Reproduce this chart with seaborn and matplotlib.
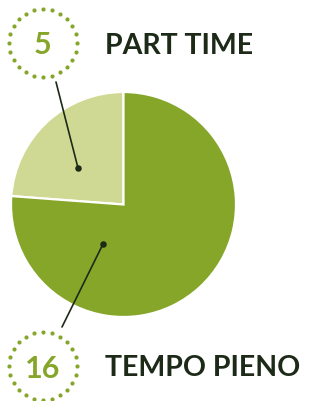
import numpy as np
import matplotlib
matplotlib.use("Agg")
import matplotlib.pyplot as plt
import seaborn as sns

# dati
labels = ["PART TIME", "TEMPO PIENO"]
values = [5, 16]
colors = ["#d0d993", "#86a62a"]

sns.set_theme(style="white")
plt.rcParams['font.family'] = ['Lato', 'DejaVu Sans']

text_col = "#1c2a17"
num_col = "#86a62a"

fig = plt.figure(figsize=(3.11, 4.01), dpi=100)
ax = fig.add_axes([0, 0, 1, 1])

# torta (coordinate in pixel, y verso l'alto)
ax.pie(values, colors=colors, startangle=90, counterclock=True,
       center=(123.5, 196.5), radius=112.5,
       wedgeprops=dict(edgecolor="white", linewidth=1.6))

# cerchi tratteggiati con i numeri + etichette
badge_y = [358, 35]
line_pts = [((56, 319), (78, 233)), ((62, 74), (103, 157))]
for val, lab, by, (p0, p1) in zip(values, labels, badge_y, line_pts):
    ang = np.linspace(0, 2 * np.pi, 25)[:-1]
    ax.scatter(43 + 34 * np.cos(ang), by + 34 * np.sin(ang), s=9,
               color=num_col, linewidths=0, zorder=3)
    ax.text(43, by, str(val), ha="center", va="center_baseline",
            fontsize=22, fontweight="bold", color=num_col)
    ax.text(105, by, lab, ha="left", va="center_baseline",
            fontsize=20.5, fontweight="bold", color=text_col)
    ax.plot([p0[0], p1[0]], [p0[1], p1[1]], color=text_col, lw=1.2, zorder=4)
    ax.scatter([p1[0]], [p1[1]], s=22, color=text_col, zorder=5, linewidths=0)

ax.set_xlim(0, 311)
ax.set_ylim(0, 401)
ax.set_aspect("auto")
ax.axis("off")

fig.savefig("out.png", dpi=100)
